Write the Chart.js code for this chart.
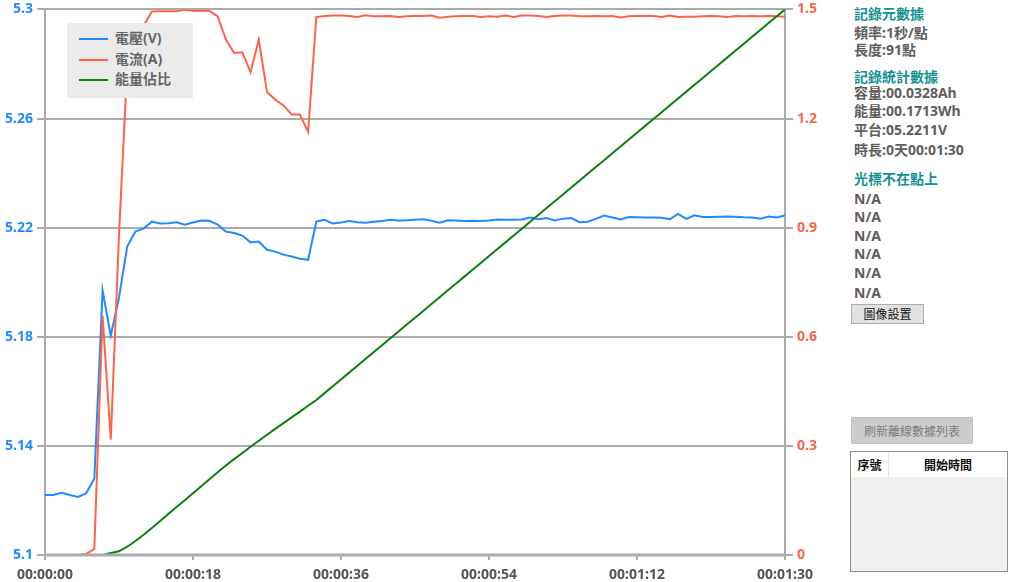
<!DOCTYPE html>
<html>
<head>
<meta charset="utf-8">
<script src="https://cdn.jsdelivr.net/npm/chart.js@4.4.1/dist/chart.umd.min.js"></script>
<style>
  body { margin: 0; background: #fff; width: 1009px; height: 582px; overflow: hidden; position: relative;
         font-family: 'Noto Sans', 'Noto Sans CJK TC', sans-serif; }
  #wrap { position: absolute; left: 0; top: -3px; width: 840px; height: 585px; }
  #legend { position: absolute; left: 67px; top: 23px; width: 126px; height: 75px; background: #ebebeb; }
  #legend .item { position: absolute; left: 12px; height: 20px; line-height: 20px; font-size: 14px; font-weight: bold; color: #666; white-space: nowrap; }
  #legend .item span { display: inline-block; width: 29px; height: 2px; vertical-align: middle; margin-right: 7px; }
  .txt { position: absolute; left: 854px; font-size: 14px; font-weight: bold; color: #5e5e5e; line-height: 18px; white-space: nowrap; }
  .hd { color: #149292; }
  .btn { position: absolute; box-sizing: border-box; text-align: center; font-family: 'Noto Sans CJK TC', sans-serif; font-size: 12px; }
  #tbl { position: absolute; left: 850px; top: 451px; width: 158px; height: 121px; box-sizing: border-box; border: 1px solid #8f8f8f; background: #f0f0f0; }
  #tbl .head { position: absolute; left: 0; top: 0; right: 0; height: 25px; background: #fff; font-family: 'Noto Sans CJK TC', sans-serif; font-size: 12px; font-weight: bold; color: #111; line-height: 25px; }
</style>
</head>
<body>
<div id="wrap"><canvas id="chart"></canvas></div>
<div id="legend"></div>

<div class="txt hd" style="top:5px">記錄元數據</div>
<div class="txt" style="top:24px">頻率:1秒/點</div>
<div class="txt" style="top:41px">長度:91點</div>
<div class="txt hd" style="top:68px">記錄統計數據</div>
<div class="txt" style="top:84px">容量:00.0328Ah</div>
<div class="txt" style="top:102px">能量:00.1713Wh</div>
<div class="txt" style="top:121px">平台:05.2211V</div>
<div class="txt" style="top:141px">時長:0天00:01:30</div>
<div class="txt hd" style="top:170px">光標不在點上</div>
<div class="txt" style="top:190px">N/A</div>
<div class="txt" style="top:208px">N/A</div>
<div class="txt" style="top:227px">N/A</div>
<div class="txt" style="top:245px">N/A</div>
<div class="txt" style="top:264px">N/A</div>
<div class="txt" style="top:284px">N/A</div>

<div class="btn" style="left:851px;top:304px;width:73px;height:20px;line-height:18px;background:#e1e1e1;border:1px solid #adadad;color:#111;">圖像設置</div>
<div class="btn" style="left:851px;top:417px;width:122px;height:27px;line-height:25px;background:#cccccc;border:1px solid #c4c4c4;color:#7c7c7c;">刷新離線數據列表</div>
<div id="tbl">
  <div class="head">
    <span style="position:absolute;left:0;width:37px;text-align:center;border-right:1px solid #e6e6e6;">序號</span>
    <span style="position:absolute;left:38px;right:0;text-align:center;">開始時間</span>
  </div>
</div>

<script>
// x axis tick labels (one every 18 s)
const xTickLabels = ["00:00:00", "00:00:18", "00:00:36", "00:00:54", "00:01:12", "00:01:30"];
const voltTicks = ["5.1", "5.14", "5.18", "5.22", "5.26", "5.3"];
const ampTicks = ["0", "0.3", "0.6", "0.9", "1.2", "1.5"];

// one reading per second, 91 points
const voltage = [
  5.122, 5.122, 5.1228, 5.122, 5.1213, 5.1226, 5.128, 5.197, 5.1804, 5.1944,
  5.2131, 5.2186, 5.2197, 5.2222, 5.2215, 5.2216, 5.222, 5.2211, 5.2219, 5.2226,
  5.2225, 5.2211, 5.2186, 5.218, 5.2171, 5.2146, 5.2149, 5.2119, 5.2112, 5.2101,
  5.2094, 5.2086, 5.2082, 5.2222, 5.2229, 5.2215, 5.2219, 5.2224, 5.222, 5.2218,
  5.2222, 5.2224, 5.2229, 5.2226, 5.2227, 5.2229, 5.2231, 5.2225, 5.2218, 5.2227,
  5.2226, 5.2224, 5.2225, 5.2224, 5.2226, 5.223, 5.2229, 5.2229, 5.223, 5.2237,
  5.2231, 5.2235, 5.2226, 5.2233, 5.2235, 5.222, 5.2222, 5.2232, 5.2244, 5.2237,
  5.223, 5.2239, 5.2238, 5.2237, 5.2237, 5.2236, 5.2231, 5.225, 5.2232, 5.2245,
  5.2239, 5.2239, 5.224, 5.2241, 5.224, 5.2238, 5.2237, 5.2233, 5.2241, 5.2237,
  5.2245
];

const current = [
  0, 0, 0, 0, 0, 0.003, 0.016, 0.658, 0.317, 0.88,
  1.342, 1.319, 1.456, 1.494, 1.495, 1.495, 1.495, 1.499, 1.496, 1.496,
  1.496, 1.481, 1.417, 1.38, 1.382, 1.327, 1.417, 1.273, 1.252, 1.236,
  1.211, 1.211, 1.163, 1.479, 1.482, 1.483, 1.483, 1.482, 1.479, 1.484,
  1.481, 1.481, 1.482, 1.479, 1.481, 1.482, 1.482, 1.483, 1.477, 1.48,
  1.481, 1.482, 1.482, 1.479, 1.481, 1.48, 1.483, 1.479, 1.483, 1.483,
  1.482, 1.479, 1.482, 1.483, 1.483, 1.481, 1.481, 1.482, 1.481, 1.482,
  1.478, 1.481, 1.482, 1.482, 1.482, 1.479, 1.483, 1.479, 1.48, 1.48,
  1.481, 1.482, 1.481, 1.479, 1.482, 1.481, 1.482, 1.481, 1.482, 1.481,
  1.48
];

// energy share in percent of the total
const energyPct = [
  0, 0, 0, 0, 0, 0, 0, 0, 0.37, 0.68,
  1.52, 2.56, 3.71, 4.94, 6.22, 7.5, 8.78, 10.05, 11.33, 12.61,
  13.89, 15.17, 16.4, 17.57, 18.7, 19.84, 20.93, 22.03, 23.11, 24.17,
  25.23, 26.29, 27.35, 28.41, 29.67, 30.92, 32.18, 33.43, 34.69, 35.95,
  37.2, 38.46, 39.72, 40.97, 42.23, 43.48, 44.74, 46.0, 47.25, 48.51,
  49.76, 51.02, 52.28, 53.53, 54.79, 56.04, 57.3, 58.56, 59.81, 61.07,
  62.32, 63.58, 64.84, 66.09, 67.35, 68.6, 69.86, 71.12, 72.37, 73.63,
  74.88, 76.14, 77.4, 78.65, 79.91, 81.16, 82.42, 83.68, 84.93, 86.19,
  87.44, 88.7, 89.96, 91.21, 92.47, 93.72, 94.98, 96.24, 97.49, 98.75,
  100
];

const gridColor = "#ababab";
const tickFont = { family: "'Noto Sans', sans-serif", size: 14, weight: "bold" };
const toPoints = (arr) => arr.map((v, i) => ({ x: i, y: v }));

// keep the bottom axis line above the series that sit on zero
const axisOnTop = {
  id: "axisOnTop",
  afterDatasetsDraw(chart) {
    const { ctx, chartArea } = chart;
    ctx.save();
    ctx.strokeStyle = gridColor;
    ctx.lineWidth = 3;
    ctx.beginPath();
    ctx.moveTo(chartArea.left, chartArea.bottom);
    ctx.lineTo(chartArea.right, chartArea.bottom);
    ctx.stroke();
    ctx.restore();
  },
};

const chart = new Chart(document.getElementById("chart"), {
  type: "line",
  data: {
    datasets: [
      { label: "電壓(V)", data: toPoints(voltage), yAxisID: "yV", borderColor: "#1e8cff", order: 3 },
      { label: "電流(A)", data: toPoints(current), yAxisID: "yA", borderColor: "#ff6347", order: 2 },
      { label: "能量佔比", data: toPoints(energyPct), yAxisID: "yE", borderColor: "#0a820a", order: 1 },
    ],
  },
  options: {
    responsive: true,
    maintainAspectRatio: false,
    animation: false,
    layout: { padding: { top: 5 }, autoPadding: false },
    elements: {
      point: { radius: 0 },
      line: { borderWidth: 2, tension: 0 },
    },
    plugins: { legend: { display: false }, tooltip: { enabled: false } },
    scales: {
      x: {
        type: "linear",
        min: 0,
        max: 90,
        afterFit: (s) => { s.height = 27; },
        grid: { drawOnChartArea: false, color: gridColor, lineWidth: 2, tickLength: 5 },
        border: { color: gridColor, width: 2 },
        ticks: { stepSize: 18, color: "#555", font: tickFont, padding: 7, maxRotation: 0,
                 callback: (v) => xTickLabels[v / 18] },
      },
      yV: {
        position: "left",
        min: 5.1,
        max: 5.3,
        afterFit: (s) => { s.width = 45; },
        grid: { color: gridColor, lineWidth: 2, tickLength: 8 },
        border: { color: gridColor, width: 2 },
        ticks: { stepSize: 0.04, color: "#1e8cff", font: tickFont, padding: 4,
                 callback: (v, i) => voltTicks[i] },
      },
      yA: {
        position: "right",
        min: 0,
        max: 1.5,
        afterFit: (s) => { s.width = 55; },
        grid: { drawOnChartArea: false, color: gridColor, lineWidth: 2, tickLength: 8 },
        border: { color: gridColor, width: 2 },
        ticks: { stepSize: 0.3, color: "#ff6347", font: tickFont, padding: 4,
                 callback: (v, i) => ampTicks[i] },
      },
      yE: { display: false, min: 0, max: 100 },
    },
  },
  plugins: [axisOnTop],
});

// legend box drawn from the dataset labels/colours
const legendBox = document.getElementById("legend");
chart.data.datasets.forEach((ds, i) => {
  const item = document.createElement("div");
  item.className = "item";
  item.style.top = (5 + i * 20.5) + "px";
  item.innerHTML = '<span style="background:' + ds.borderColor + '"></span>' + ds.label;
  legendBox.appendChild(item);
});
</script>
</body>
</html>
